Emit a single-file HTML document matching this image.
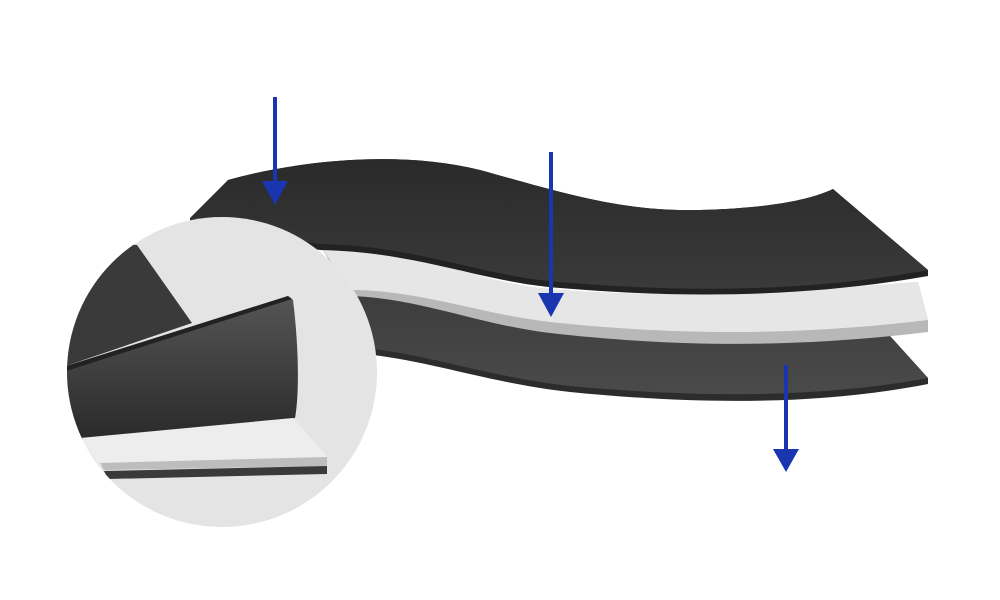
<!DOCTYPE html>
<html><head><meta charset="utf-8"><style>html,body{margin:0;padding:0;background:#fff}svg{display:block}</style></head>
<body>
<svg width="1000" height="600" viewBox="0 0 1000 600" xmlns="http://www.w3.org/2000/svg">
<defs>
<linearGradient id="dk" x1="0" y1="0" x2="0" y2="1"><stop offset="0" stop-color="#2a2a2a"/><stop offset="1" stop-color="#3a3a3a"/></linearGradient>
<linearGradient id="bt" x1="0" y1="0" x2="0" y2="1"><stop offset="0" stop-color="#3c3c3c"/><stop offset="1" stop-color="#4a4a4a"/></linearGradient>
<linearGradient id="fl" x1="0" y1="0" x2="0" y2="1"><stop offset="0" stop-color="#555"/><stop offset="1" stop-color="#2a2a2a"/></linearGradient>
<clipPath id="cc"><circle cx="222" cy="372" r="155"/></clipPath>
</defs>
<!-- bottom layer -->
<path d="M330 285 C420 285 480 310 560 318 C700 332 820 333 890 336 L928 378 L928 384 C820 405 700 405 570 392 C480 382 420 356 340 352 Z" fill="#2c2c2c"/>
<path d="M330 285 C420 285 480 310 560 318 C700 332 820 333 890 336 L928 378 C820 398 700 398 570 386 C480 376 420 350 340 346 Z" fill="url(#bt)"/>
<!-- foam -->
<path d="M320 245 C420 250 480 285 560 290 C700 300 820 290 918 282 L928 320 L928 332 C820 345 700 350 550 333 C480 325 420 298 350 296 Z" fill="#b8b8b8"/>
<path d="M320 245 C420 250 480 285 560 290 C700 300 820 290 918 282 L928 320 C820 333 700 338 550 322 C480 314 420 290 350 290 Z" fill="#e6e6e6"/>
<!-- top layer -->
<path d="M228 180 C300 160 400 150 480 170 C560 192 620 212 700 210 C770 208 810 200 833 189 L928 270 L928 276 C820 295 700 300 560 288 C480 282 420 252 320 250 L190 230 Z" fill="#222"/>
<path d="M228 180 C300 160 400 150 480 170 C560 192 620 212 700 210 C770 208 810 200 833 189 L928 270 C820 290 700 294 560 282 C480 276 420 246 320 244 L190 224 L190 218 Z" fill="url(#dk)"/>
<!-- circle -->
<circle cx="222" cy="372" r="155" fill="#e4e4e4"/>
<g clip-path="url(#cc)">
<path d="M137 245 L192 323 L60 368 L60 240 Z" fill="#3a3a3a"/>
<path d="M60 368 L288 296 L293 300 C298 340 300 390 295 418 L80 440 L60 440 Z" fill="url(#fl)"/>
<path d="M60 368 L288 296 L292 299 L60 373 Z" fill="#222"/>
<path d="M80 438 L293 418 L327 456 L327 462 L100 466 Z" fill="#ededed"/>
<path d="M100 463 L327 457 L327 466 L104 470 Z" fill="#bdbdbd"/>
<path d="M104 471 L327 466 L327 474 L108 479 Z" fill="#3a3a3a"/>
</g>
<!-- arrows -->
<g fill="#1a35b0" stroke="#1a35b0">
<line x1="275" y1="97" x2="275" y2="185" stroke-width="4"/>
<polygon points="262,181 288,181 275,205" stroke="none"/>
<line x1="551" y1="152" x2="551" y2="298" stroke-width="4"/>
<polygon points="538,293 564,293 551,317" stroke="none"/>
<line x1="786" y1="365" x2="786" y2="452" stroke-width="4"/>
<polygon points="773,449 799,449 786,472" stroke="none"/>
</g>
</svg>
</body></html>
